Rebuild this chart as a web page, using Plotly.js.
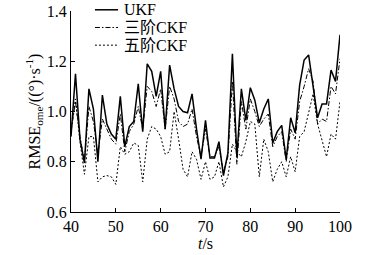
<!DOCTYPE html>
<html>
<head>
<meta charset="utf-8">
<script src="https://cdn.plot.ly/plotly-3.0.1.min.js"></script>
<style>html,body{margin:0;padding:0;background:#fff;}#chart{width:370px;height:255px;}</style>
</head>
<body>
<div id="chart"></div>
<script>
var t = [40,41,42,43,44,45,46,47,48,49,50,51,52,53,54,55,56,57,58,59,60,61,62,63,64,65,66,67,68,69,70,71,72,73,74,75,76,77,78,79,80,81,82,83,84,85,86,87,88,89,90,91,92,93,94,95,96,97,98,99,100];
var ukf = [0.90,1.15,0.89,0.795,1.09,1.01,0.80,1.065,0.95,0.91,0.89,1.06,0.86,0.94,0.96,1.11,0.92,1.19,1.16,1.06,1.16,0.93,1.185,1.09,1.02,1.00,0.995,1.07,0.93,0.81,0.965,0.815,0.815,0.88,0.745,0.835,1.23,0.82,1.09,0.965,1.095,1.045,0.955,1.01,1.05,0.875,0.92,0.945,0.81,0.975,0.915,1.105,1.205,1.225,1.10,0.975,1.03,1.03,1.165,1.12,1.305];
var ckf3 = [0.92,1.04,0.90,0.80,1.02,0.96,0.83,0.97,0.93,0.89,0.87,0.99,0.84,0.92,0.95,1.02,0.93,1.10,1.08,1.02,1.09,0.93,1.10,1.05,0.96,0.94,0.95,1.01,0.90,0.82,0.93,0.82,0.82,0.86,0.76,0.82,1.12,0.79,1.04,0.93,1.05,1.00,0.94,0.97,0.99,0.86,0.90,0.92,0.80,0.93,0.89,1.04,1.10,1.17,1.12,0.95,0.97,0.96,1.10,1.07,1.21];
var ckf5 = [0.92,1.05,0.88,0.75,0.90,0.90,0.72,0.74,0.745,0.74,0.71,0.86,0.83,0.84,0.875,0.865,0.72,0.89,0.94,0.93,0.90,0.83,0.84,1.00,0.89,0.77,0.74,0.84,0.81,0.73,0.80,0.73,0.74,0.80,0.70,0.74,0.87,0.84,0.82,0.88,0.96,0.95,0.74,0.89,0.84,0.72,0.77,0.80,0.74,0.82,0.76,0.90,0.92,0.99,1.07,0.95,0.88,0.82,0.91,0.89,1.04];
var names = ['UKF','三阶CKF','五阶CKF'];
var xTicks = [40,50,60,70,80,90,100];
var yTicks = [0.6,0.8,1.0,1.2,1.4];

var fam = '"Liberation Serif","Times New Roman","Noto Sans CJK SC",serif';
var font = {family:fam, size:16, color:'#000'};
var styles = [
  {color:'#000', width:1.5, dash:'solid'},
  {color:'#000', width:1, dash:'5px,2px,1.5px,2px'},
  {color:'#000', width:1, dash:'2px,2px'}
];
var series = [ukf, ckf3, ckf5];
var traces = series.map(function(s,i){
  return {x:t, y:s, name:names[i], mode:'lines', line:styles[i], showlegend:false};
});

// manual legend (positions in paper coordinates)
var legY = [1.006, 0.918, 0.83];
var shapes = [], annotations = [];
names.forEach(function(n,i){
  shapes.push({type:'line', xref:'paper', yref:'paper', x0:0.089, x1:0.175, y0:legY[i], y1:legY[i], line:styles[i]});
  annotations.push({xref:'paper', yref:'paper', x:0.188, y:legY[i], xanchor:'left', yanchor:'middle', text:n, showarrow:false, font:{family:fam, size:16, color:'#000'}});
});

var layout = {
  width:370, height:255,
  margin:{l:71, r:30, t:11, b:43, pad:0},
  paper_bgcolor:'#fff', plot_bgcolor:'#fff',
  font:font,
  showlegend:false,
  shapes:shapes,
  annotations:annotations,
  xaxis:{range:[40,100], tickvals:xTicks, ticktext:xTicks.map(String), showgrid:false, zeroline:false,
    showline:true, linecolor:'#000', linewidth:1, ticks:'inside', ticklen:4, tickcolor:'#000',
    tickfont:font, title:{text:'<i>t</i>/s', font:font, standoff:0}},
  yaxis:{range:[0.6,1.4], tickvals:yTicks, ticktext:yTicks.map(function(v){return v.toFixed(1);}), showgrid:false, zeroline:false,
    showline:true, linecolor:'#000', linewidth:1, ticks:'inside', ticklen:4, tickcolor:'#000',
    tickfont:font, title:{text:'RMSE<sub>ome</sub>/((°)·s<sup>-1</sup>)', font:font, standoff:2}}
};
Plotly.newPlot('chart', traces, layout, {displayModeBar:false, staticPlot:true});
</script>
</body>
</html>
